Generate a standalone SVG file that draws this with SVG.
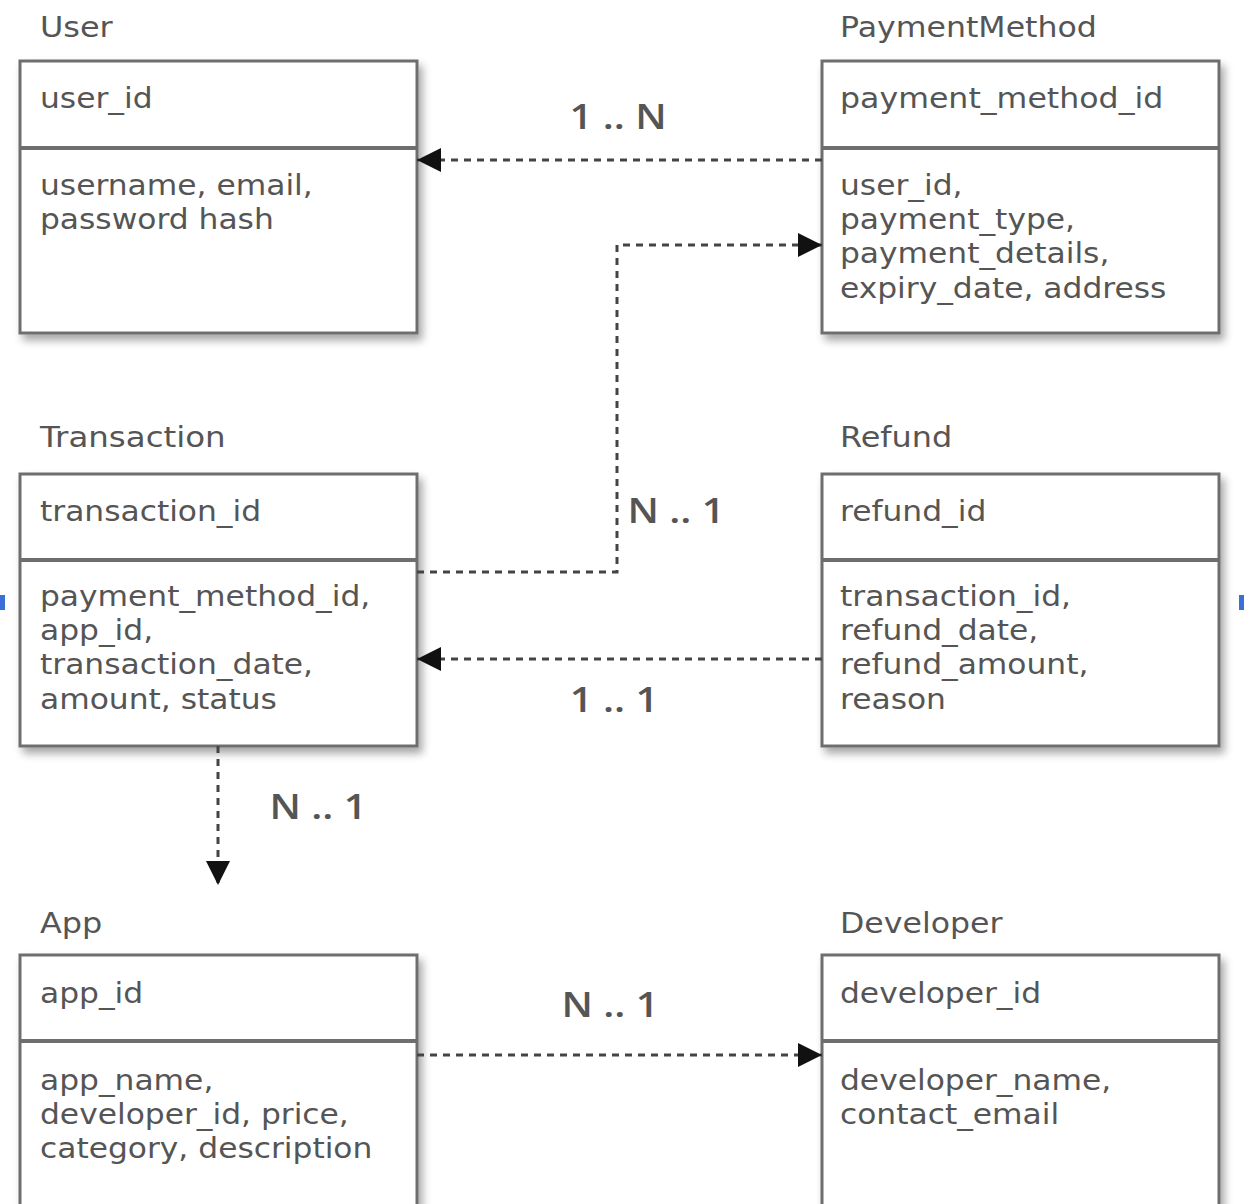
<svg xmlns="http://www.w3.org/2000/svg" width="1244" height="1204" viewBox="0 0 1244 1204">
<defs>
<filter id="sh" x="-10%" y="-10%" width="130%" height="130%">
<feGaussianBlur in="SourceAlpha" stdDeviation="4"/>
<feOffset dx="4" dy="6" result="b"/>
<feComponentTransfer><feFuncA type="linear" slope="0.35"/></feComponentTransfer>
<feMerge><feMergeNode/><feMergeNode in="SourceGraphic"/></feMerge>
</filter>
<marker id="ah2" viewBox="0 0 10 10" refX="10" refY="5" markerWidth="24" markerHeight="24" orient="auto" markerUnits="userSpaceOnUse">
<path d="M0,0 L10,5 L0,10 Z" fill="#111"/>
</marker>
</defs>
<style>
.box{fill:#fff;stroke:#6e6e6e;stroke-width:3}
.div{stroke:#6e6e6e;stroke-width:4}
.t{font-family:"DejaVu Sans",sans-serif;font-size:29px;fill:#555}
.lbl{font-family:"Open Sans","Noto Sans",sans-serif;font-size:34px;font-weight:600;fill:#555;text-anchor:middle}
.c{fill:none;stroke:#444;stroke-width:3;stroke-dasharray:7 6}
</style>
<rect width="1244" height="1204" fill="#fff"/>

<g id="User">
<text class="t" transform="translate(40 37) scale(1.1 1)">User</text>
<rect class="box" x="20" y="61" width="397" height="272" filter="url(#sh)"/>
<line class="div" x1="20" y1="148" x2="417" y2="148"/>
<text class="t" transform="translate(40 108) scale(1.08 1)">user_id</text>
<text class="t" transform="translate(40 195) scale(1.08 1)"><tspan x="0" y="0">username, email,</tspan><tspan x="0" y="34">password hash</tspan></text>
</g>

<g id="PaymentMethod">
<text class="t" transform="translate(840 37) scale(1.09 1)">PaymentMethod</text>
<rect class="box" x="822" y="61" width="397" height="272" filter="url(#sh)"/>
<line class="div" x1="822" y1="148" x2="1219" y2="148"/>
<text class="t" transform="translate(840 108) scale(1.09 1)">payment_method_id</text>
<text class="t" transform="translate(840 195) scale(1.08 1)"><tspan x="0" y="0">user_id,</tspan><tspan x="0" y="34">payment_type,</tspan><tspan x="0" y="68">payment_details,</tspan><tspan x="0" y="103">expiry_date, address</tspan></text>
</g>

<g id="Transaction">
<text class="t" transform="translate(40 447) scale(1.12 1)">Transaction</text>
<rect class="box" x="20" y="474" width="397" height="272" filter="url(#sh)"/>
<line class="div" x1="20" y1="560" x2="417" y2="560"/>
<text class="t" transform="translate(40 521) scale(1.08 1)">transaction_id</text>
<text class="t" transform="translate(40 606) scale(1.08 1)"><tspan x="0" y="0">payment_method_id,</tspan><tspan x="0" y="34">app_id,</tspan><tspan x="0" y="68">transaction_date,</tspan><tspan x="0" y="103">amount, status</tspan></text>
</g>

<g id="Refund">
<text class="t" transform="translate(840 447) scale(1.1 1)">Refund</text>
<rect class="box" x="822" y="474" width="397" height="272" filter="url(#sh)"/>
<line class="div" x1="822" y1="560" x2="1219" y2="560"/>
<text class="t" transform="translate(840 521) scale(1.08 1)">refund_id</text>
<text class="t" transform="translate(840 606) scale(1.08 1)"><tspan x="0" y="0">transaction_id,</tspan><tspan x="0" y="34">refund_date,</tspan><tspan x="0" y="68">refund_amount,</tspan><tspan x="0" y="103">reason</tspan></text>
</g>

<g id="App">
<text class="t" transform="translate(40 933) scale(1.1 1)">App</text>
<rect class="box" x="20" y="955" width="397" height="272" filter="url(#sh)"/>
<line class="div" x1="20" y1="1041" x2="417" y2="1041"/>
<text class="t" transform="translate(40 1003) scale(1.08 1)">app_id</text>
<text class="t" transform="translate(40 1090) scale(1.08 1)"><tspan x="0" y="0">app_name,</tspan><tspan x="0" y="34">developer_id, price,</tspan><tspan x="0" y="68">category, description</tspan></text>
</g>

<g id="Developer">
<text class="t" transform="translate(840 933) scale(1.09 1)">Developer</text>
<rect class="box" x="822" y="955" width="397" height="272" filter="url(#sh)"/>
<line class="div" x1="822" y1="1041" x2="1219" y2="1041"/>
<text class="t" transform="translate(840 1003) scale(1.08 1)">developer_id</text>
<text class="t" transform="translate(840 1090) scale(1.08 1)"><tspan x="0" y="0">developer_name,</tspan><tspan x="0" y="34">contact_email</tspan></text>
</g>

<g id="connectors">
<path class="c" d="M822,160 H417" marker-end="url(#ah2)"/>
<text class="lbl" transform="translate(618 129) scale(1.18 1)">1 .. N</text>
<path class="c" d="M417,572 H617 V245 H822" marker-end="url(#ah2)"/>
<text class="lbl" transform="translate(676 523) scale(1.18 1)">N .. 1</text>
<path class="c" d="M822,659 H417" marker-end="url(#ah2)"/>
<text class="lbl" transform="translate(614 712) scale(1.18 1)">1 .. 1</text>
<path class="c" d="M218,746 V885" marker-end="url(#ah2)"/>
<text class="lbl" transform="translate(318 819) scale(1.18 1)">N .. 1</text>
<path class="c" d="M417,1055 H822" marker-end="url(#ah2)"/>
<text class="lbl" transform="translate(610 1017) scale(1.18 1)">N .. 1</text>
</g>

<rect x="0" y="595" width="5" height="15" fill="#3b6fd8"/>
<rect x="1239" y="595" width="5" height="15" fill="#3b6fd8"/>
</svg>
